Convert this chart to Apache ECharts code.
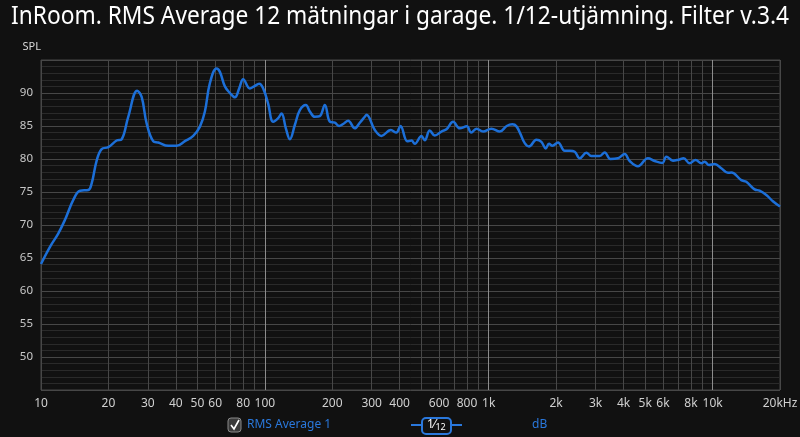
<!DOCTYPE html>
<html><head><meta charset="utf-8">
<script src="https://cdn.jsdelivr.net/npm/echarts@6/dist/echarts.min.js"></script>
<style>html,body{margin:0;padding:0;background:#111111;}#c{width:800px;height:437px;}</style>
</head><body><div id="c"></div>
<script>
const titleText = 'InRoom. RMS Average 12 mätningar i garage. 1/12-utjämning. Filter v.3.4';
const seriesName = 'RMS Average 1';
const freqs = [10,10.97,11.94,12.8,13.94,14.94,16.26,16.84,17.74,18.66,19.97,21.77,22.93,24.53,26.91,28.16,29.64,31.72,33.4,37.01,40.35,43.95,47.86,51.27,53.96,56.81,60.86,62.96,66.29,69.79,73.47,76.8,80.01,85.7,89.57,94.32,98.27,103.4,108.9,114.7,118.7,124.1,129.3,136.1,143.3,152.4,158.8,167.2,176,185.3,195.1,205.4,214.7,223.7,235.5,252.2,265.5,279.5,284.4,309.8,331.9,365.2,386.4,403.4,432.7,451.8,467.4,500.6,517.9,545.2,574,616.9,647.4,692.9,742.2,797.6,835.4,881.3,943.1,1028,1120,1203,1276,1330,1385,1448,1513,1633,1719,1797,1859,1925,2039,2184,2299,2421,2549,2731,2874,3131,3296,3494,3777,4047,4261,4640,5142,5509,5963,6215,6651,7050,7423,7895,8397,8906,9211,9627,10207,10934,11703,12119,13430,14140,15400,16210,17370,18590,20000];
const spl = [64.1,66.7,68.7,70.8,73.8,75.2,75.3,76.3,79.8,81.5,81.8,82.8,83.0,86.4,90.35,89.4,85.4,82.7,82.5,82.0,82.0,82.7,83.5,84.9,87.2,91.5,93.7,93.2,91.0,90.0,89.35,90.7,92.1,90.7,91.0,91.4,90.7,88.4,85.65,86.2,86.9,84.65,83.0,85.15,87.4,88.2,87.2,86.4,86.5,88.2,85.65,85.5,85.0,85.3,85.8,84.65,85.5,86.4,86.7,84.4,83.5,84.4,84.0,85.0,82.7,82.8,82.3,83.5,82.85,84.3,83.55,84.2,84.5,85.65,84.65,84.95,84.0,84.6,84.15,84.6,84.15,85.0,85.25,84.95,83.8,82.4,81.9,82.9,82.6,81.6,82.3,82.0,82.5,81.25,81.25,81.1,80.1,80.95,80.45,80.45,81.0,80.0,80.1,80.75,79.7,78.9,80.1,79.7,79.4,80.35,79.75,79.9,80.1,79.35,79.85,79.35,79.6,79.1,79.25,78.6,77.9,77.95,76.8,76.55,75.4,75.2,74.55,73.6,72.8];
const labelFreqs = [10,20,30,40,50,60,80,100,200,300,400,600,800,1000,2000,3000,4000,5000,6000,8000,10000,20000];
const labelTexts = ['10','20','30','40','50','60','80','100','200','300','400','600','800','1k','2k','3k','4k','5k','6k','8k','10k','20kHz'];
const gridFreqs = [10,20,30,40,50,60,70,80,90,200,300,400,500,600,700,800,900,2000,3000,4000,5000,6000,7000,8000,9000,20000];
const decadeFreqs = [100,1000,10000];
const yTicks = [50,55,60,65,70,75,80,85,90];

const F = 'Noto Sans';
// horizontally fit title to reference width
const mc = document.createElement('canvas').getContext('2d');
mc.font = '25px "Noto Sans"';
const titleW = mc.measureText(titleText).width;
const titleScale = 778 / titleW;

const chart = echarts.init(document.getElementById('c'), null, {renderer:'canvas'});
const allLineFreqs = gridFreqs.concat(decadeFreqs).sort((a,b)=>a-b);
const lines = allLineFreqs.map(f => {
  const li = labelFreqs.indexOf(f);
  const dec = decadeFreqs.indexOf(f) >= 0;
  return {xAxis: f,
    lineStyle:{color: dec ? '#8c8c8c' : '#474747', width:1, type:'solid'},
    label: li >= 0 ? {show:true, formatter: labelTexts[li]} : {show:false}};
});
chart.setOption({
  backgroundColor:'#111111',
  animation:false,
  grid:{left:41, right:20, top:60, bottom:47, show:true, borderColor:'#474747', borderWidth:1, backgroundColor:'#111111'},
  xAxis:{type:'log', logBase:10, min:10, max:20000, axisLine:{show:false}, axisTick:{show:false}, axisLabel:{show:false}, splitLine:{show:false}},
  yAxis:{type:'value', min:45, max:95, interval:5, name:'SPL', nameLocation:'end', nameGap:8,
    nameTextStyle:{color:'#d8d8d8', fontFamily:F, fontSize:11, align:'right', padding:[0,0,0,0]},
    axisLine:{show:false}, axisTick:{show:false},
    axisLabel:{color:'#c8c8c8', fontFamily:F, fontSize:11.5, margin:8, formatter: v => yTicks.indexOf(v) >= 0 ? String(v) : ''},
    splitLine:{lineStyle:{color:'#474747', width:1}},
    minorTick:{show:false, splitNumber:5},
    minorSplitLine:{show:true, lineStyle:{color:'#2a2a2a', width:1}}},
  series:[
    {type:'line', data:[], z:1, silent:true,
     markLine:{silent:true, symbol:'none', animation:false,
       label:{position:'start', distance:8, color:'#d0d0d0', fontFamily:F, fontSize:12}, data:lines}},
    {type:'line', name:seriesName, z:5, data: freqs.map((f,i)=>[f, spl[i]]), showSymbol:false, smooth:0.4,
     lineStyle:{color:'#1c6fd8', width:2.5}}
  ],
  graphic:[
    {type:'text', x:400, y:4, scaleX:titleScale, originX:0, originY:0, style:{text:titleText, fill:'#ffffff', font:'25px "Noto Sans"', align:'center', verticalAlign:'top'}},
    {type:'rect', shape:{x:228, y:418, width:13, height:14, r:3}, style:{fill:'#3a3a3a', stroke:'#8a8a8a', lineWidth:1}},
    {type:'polyline', shape:{points:[[231,425],[234,429],[239,420]]}, style:{stroke:'#ffffff', lineWidth:1.6, fill:null}},
    {type:'text', x:247, y:425, style:{text:seriesName, fill:'#2a78dc', font:'12px "Noto Sans"', verticalAlign:'middle'}},
    {type:'line', shape:{x1:411, y1:425, x2:462, y2:425}, style:{stroke:'#2a78dc', lineWidth:2}},
    {type:'rect', shape:{x:422, y:418, width:29, height:16, r:4}, style:{fill:'#111111', stroke:'#2a78dc', lineWidth:2}},
    {type:'text', x:427, y:425, style:{text:'{a|1}{b|⁄}{c|12}', verticalAlign:'middle', rich:{a:{fill:'#ffffff', font:'12px "Noto Sans"'}, b:{fill:'#ffffff', font:'12px "Noto Sans"'}, c:{fill:'#ffffff', font:'9px "Noto Sans"', padding:[4,0,0,0]}}}},
    {type:'text', x:532, y:425, style:{text:'dB', fill:'#2a78dc', font:'12px "Noto Sans"', verticalAlign:'middle'}}
  ]
});
</script></body></html>
